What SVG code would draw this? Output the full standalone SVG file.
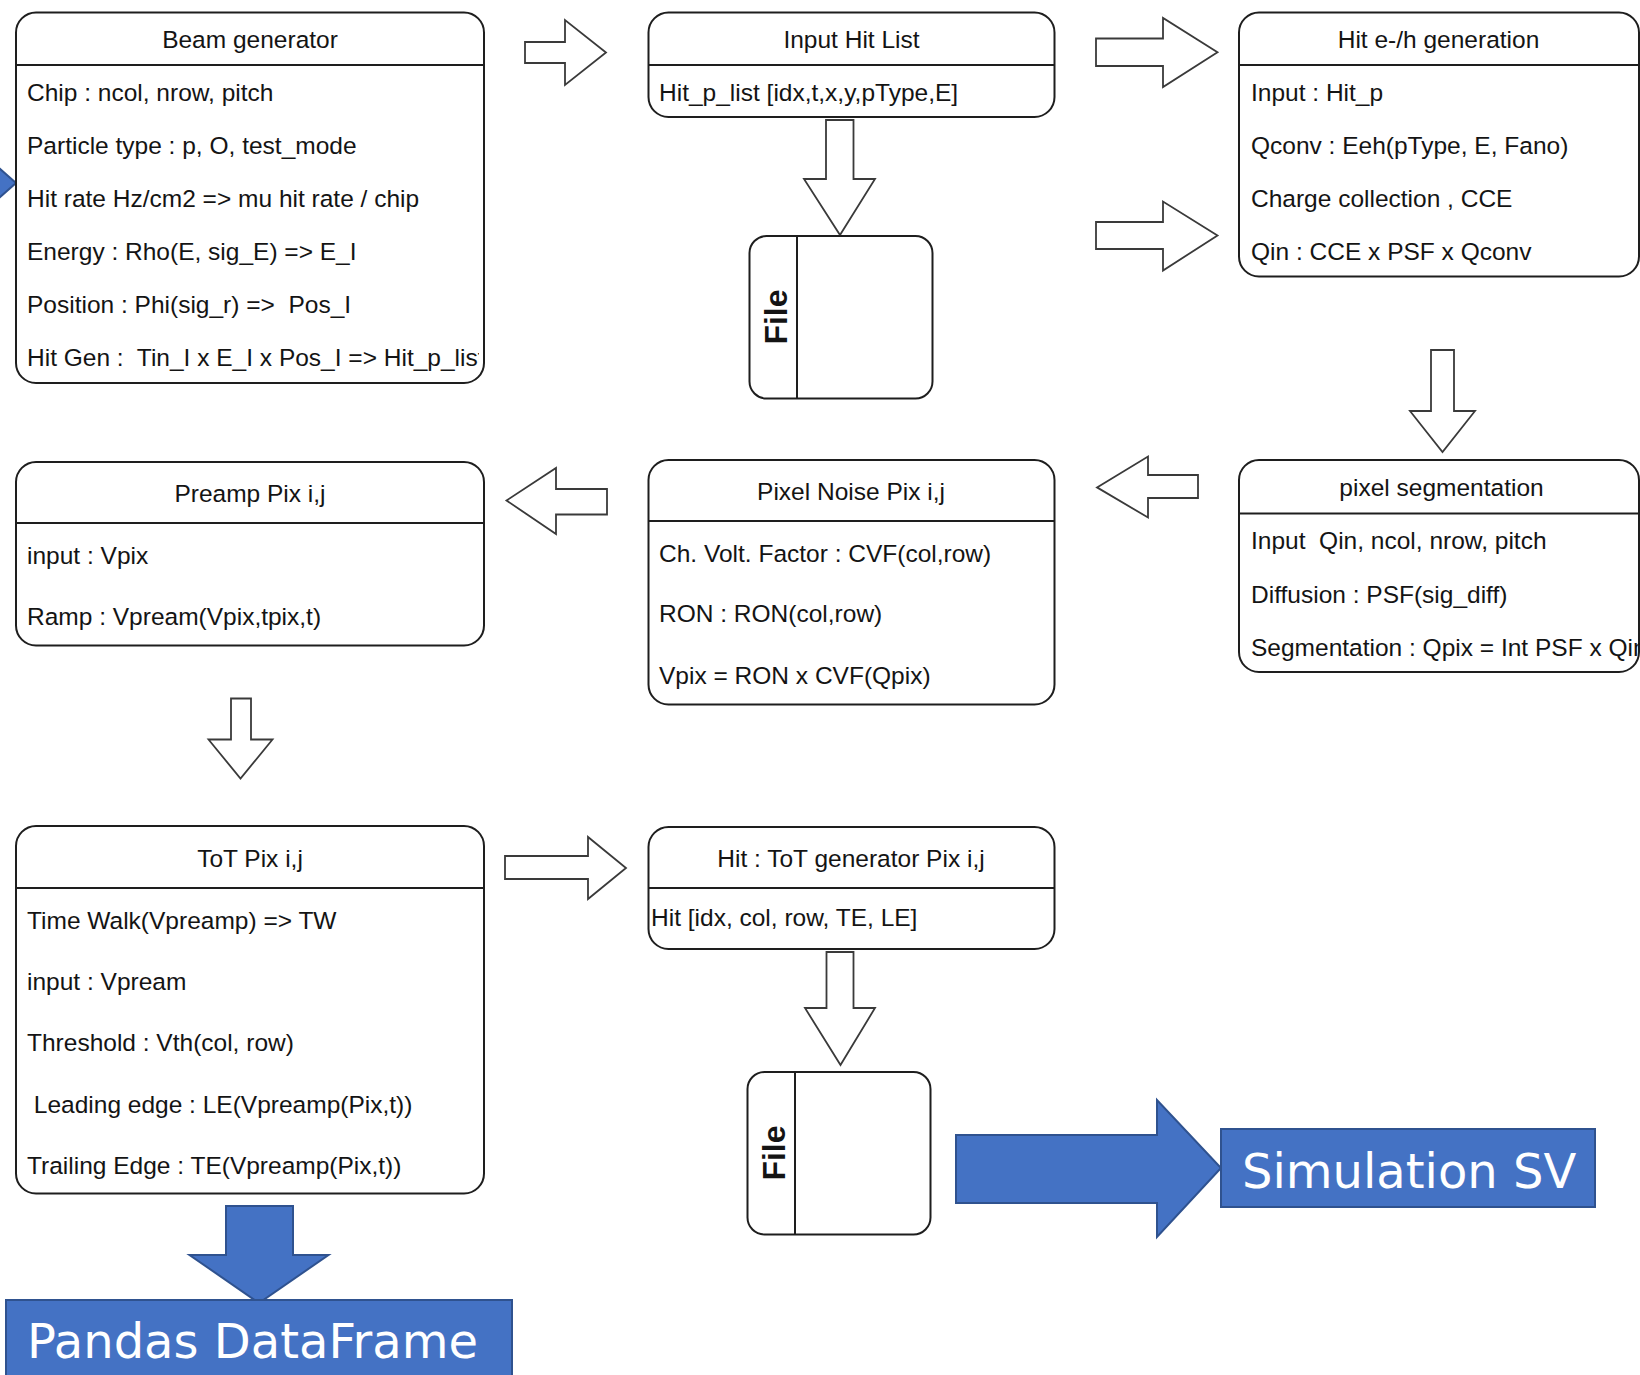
<svg xmlns="http://www.w3.org/2000/svg" width="1640" height="1375" viewBox="0 0 1640 1375">
<style>
.box{fill:#fff;stroke:#1e1e1e;stroke-width:2}
.div{stroke:#1e1e1e;stroke-width:2}
.t{font-family:"Liberation Sans",Arial,sans-serif;font-size:24.5px;fill:#141414;white-space:pre}
.ttl{text-anchor:middle}
.file{font-family:"Liberation Sans",Arial,sans-serif;font-size:32px;font-weight:bold;fill:#141414;text-anchor:middle;dominant-baseline:central}
.ha{fill:#fff;stroke:#3a3a3a;stroke-width:1.8;stroke-linejoin:miter}
.ba{fill:#4472C4;stroke:#2F528F;stroke-width:2}
.bt{font-family:"DejaVu Sans",Verdana,sans-serif;font-size:48px;fill:#fff}
</style>
<defs>
<clipPath id="clipBeam"><rect x="16" y="12" width="463" height="372"/></clipPath>
</defs>
<rect width="1640" height="1375" fill="#fff"/>

<g id="connectors">
<polygon class="ba" points="-10,160 16,183 -10,206"/>
<polygon class="ha" points="525,42 565,42 565,20 606,52.5 565,85 565,63 525,63"/>
<polygon class="ha" points="826,120 853.5,120 853.5,179 875,179 840,235 804,179 826,179"/>
<polygon class="ha" points="1096,38.5 1163,38.5 1163,18 1217.5,52.3 1163,87 1163,66 1096,66"/>
<polygon class="ha" points="1096,222 1163,222 1163,201.5 1217.5,235.5 1163,270.5 1163,249 1096,249"/>
<polygon class="ha" points="1431,350 1454,350 1454,411 1475,411 1442.5,452 1410,411 1431,411"/>
<polygon class="ha" points="1097,487.4 1148,456.5 1148,475 1198,475 1198,498 1148,498 1148,517.5"/>
<polygon class="ha" points="506.5,500.5 556,468 556,489 607,489 607,514.5 556,514.5 556,534"/>
<polygon class="ha" points="231,698.5 251,698.5 251,739.5 272.5,739.5 240.5,778.5 208.5,739.5 231,739.5"/>
<polygon class="ha" points="505,856 588,856 588,837 626,868 588,899 588,879 505,879"/>
<polygon class="ha" points="826.5,952 853.5,952 853.5,1008 875,1008 840.5,1065 805,1008 826.5,1008"/>
<polygon class="ba" points="956,1135 1157,1135 1157,1100 1221,1168 1157,1237 1157,1203 956,1203"/>
<polygon class="ba" points="226,1206 293,1206 293,1255 328.5,1255 259,1303 189.5,1255 226,1255"/>
</g>

<g id="beam-generator">
<rect class="box" x="16" y="12.5" width="468" height="370.5" rx="20"/>
<line class="div" x1="16" y1="65" x2="484" y2="65"/>
<text class="t ttl" x="250" y="47.5">Beam generator</text>
<text class="t" x="27" y="101">Chip : ncol, nrow, pitch</text>
<text class="t" x="27" y="153.5">Particle type : p, O, test_mode</text>
<text class="t" x="27" y="207">Hit rate Hz/cm2 =&gt; mu hit rate / chip</text>
<text class="t" x="27" y="259.5">Energy : Rho(E, sig_E) =&gt; E_I</text>
<text class="t" x="27" y="312.5">Position : Phi(sig_r) =&gt;  Pos_I</text>
<text class="t" x="27" y="366" clip-path="url(#clipBeam)">Hit Gen :  Tin_I x E_I x Pos_I =&gt; Hit_p_list</text>
</g>

<g id="input-hit-list">
<rect class="box" x="648.5" y="12.5" width="406" height="104.5" rx="20"/>
<line class="div" x1="648.5" y1="65" x2="1054.5" y2="65"/>
<text class="t ttl" x="851.5" y="47.5">Input Hit List</text>
<text class="t" x="659" y="100.5">Hit_p_list [idx,t,x,y,pType,E]</text>
</g>

<g id="file-1">
<rect class="box" x="749.5" y="236" width="183" height="162.5" rx="17"/>
<line class="div" x1="797" y1="236" x2="797" y2="398.5"/>
<text class="file" transform="translate(776,317) rotate(-90)">File</text>
</g>

<g id="hit-eh-generation">
<rect class="box" x="1239" y="12.5" width="400" height="264" rx="20"/>
<line class="div" x1="1239" y1="65" x2="1639" y2="65"/>
<text class="t ttl" x="1438.5" y="47.5">Hit e-/h generation</text>
<text class="t" x="1251" y="101">Input : Hit_p</text>
<text class="t" x="1251" y="153.5">Qconv : Eeh(pType, E, Fano)</text>
<text class="t" x="1251" y="207">Charge collection , CCE</text>
<text class="t" x="1251" y="259.5">Qin : CCE x PSF x Qconv</text>
</g>

<g id="pixel-segmentation">
<rect class="box" x="1239" y="460" width="400" height="212" rx="20"/>
<line class="div" x1="1239" y1="513.5" x2="1639" y2="513.5"/>
<text class="t ttl" x="1441.5" y="495.5">pixel segmentation</text>
<text class="t" x="1251" y="549">Input  Qin, ncol, nrow, pitch</text>
<text class="t" x="1251" y="602.5">Diffusion : PSF(sig_diff)</text>
<text class="t" x="1251" y="655.5">Segmentation : Qpix = Int PSF x Qin</text>
</g>

<g id="pixel-noise">
<rect class="box" x="648.5" y="460" width="406" height="244.5" rx="20"/>
<line class="div" x1="648.5" y1="521" x2="1054.5" y2="521"/>
<text class="t ttl" x="851" y="500">Pixel Noise Pix i,j</text>
<text class="t" x="659" y="561.5">Ch. Volt. Factor : CVF(col,row)</text>
<text class="t" x="659" y="622">RON : RON(col,row)</text>
<text class="t" x="659" y="683.5">Vpix = RON x CVF(Qpix)</text>
</g>

<g id="preamp">
<rect class="box" x="16" y="462" width="468" height="183.5" rx="20"/>
<line class="div" x1="16" y1="523" x2="484" y2="523"/>
<text class="t ttl" x="250" y="501.5">Preamp Pix i,j</text>
<text class="t" x="27" y="563.5">input : Vpix</text>
<text class="t" x="27" y="624.5">Ramp : Vpream(Vpix,tpix,t)</text>
</g>

<g id="tot-pix">
<rect class="box" x="16" y="826" width="468" height="367.5" rx="20"/>
<line class="div" x1="16" y1="888" x2="484" y2="888"/>
<text class="t ttl" x="250" y="867">ToT Pix i,j</text>
<text class="t" x="27" y="928.5">Time Walk(Vpreamp) =&gt; TW</text>
<text class="t" x="27" y="989.5">input : Vpream</text>
<text class="t" x="27" y="1050.5">Threshold : Vth(col, row)</text>
<text class="t" x="27" y="1112.5"> Leading edge : LE(Vpreamp(Pix,t))</text>
<text class="t" x="27" y="1173.5">Trailing Edge : TE(Vpreamp(Pix,t))</text>
</g>

<g id="hit-tot-generator">
<rect class="box" x="648.5" y="827" width="406" height="122" rx="20"/>
<line class="div" x1="648.5" y1="888" x2="1054.5" y2="888"/>
<text class="t ttl" x="851" y="867">Hit : ToT generator Pix i,j</text>
<text class="t" x="651" y="925.5">Hit [idx, col, row, TE, LE]</text>
</g>

<g id="file-2">
<rect class="box" x="747.5" y="1072" width="183" height="162.5" rx="17"/>
<line class="div" x1="795" y1="1072" x2="795" y2="1234.5"/>
<text class="file" transform="translate(774,1153) rotate(-90)">File</text>
</g>

<g id="simulation-sv">
<rect class="ba" x="1221" y="1129" width="374" height="78"/>
<text class="bt" x="1242" y="1188">Simulation SV</text>
</g>

<g id="pandas-dataframe">
<rect class="ba" x="6" y="1300" width="506" height="90"/>
<text class="bt" x="27" y="1358">Pandas DataFrame</text>
</g>
</svg>
